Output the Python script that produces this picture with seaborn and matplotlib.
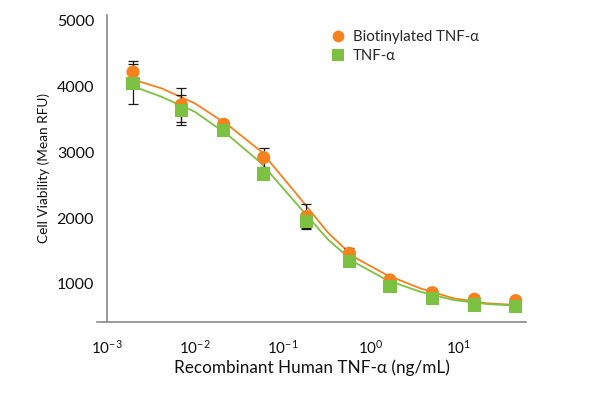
import numpy as np
import pandas as pd
import matplotlib
matplotlib.use("Agg")
import matplotlib.pyplot as plt
from matplotlib.lines import Line2D
import seaborn as sns

# ---- data ----
dose = [0.00199, 0.00703, 0.0213, 0.0605, 0.1845, 0.568, 1.644, 4.97, 14.9, 43.9]
biot_mean = [4220, 3720, 3426, 2920, 2022, 1466, 1061, 868, 768, 746]
biot_err = [160, 260, 40, 145, 190, 85, 30, 20, 20, 20]
tnf_mean = [4040, 3640, 3329, 2671, 1946, 1339, 959, 783, 681, 655]
tnf_err = [300, 230, 40, 60, 100, 50, 40, 30, 20, 20]

curve_dose = [0.00199, 0.00417, 0.00998, 0.0238, 0.0569, 0.136, 0.325,
              0.630, 1.507, 3.60, 8.59, 20.6, 43.9]
biot_curve = [4105, 3973, 3745, 3415, 3010, 2402, 1780, 1415, 1137, 935, 783, 707, 681]
tnf_curve = [4003, 3845, 3617, 3263, 2834, 2250, 1675, 1339, 1061, 883, 757, 696, 670]

series_names = ["Biotinylated TNF-\u03b1", "TNF-\u03b1"]
xticks = [1e-3, 1e-2, 1e-1, 1e0, 1e1]
xtick_labels = ["$10^{-3}$", "$10^{-2}$", "$10^{-1}$", "$10^{0}$", "$10^{1}$"]
yticks = [1000, 2000, 3000, 4000, 5000]

ORANGE = "#F5821F"
GREEN = "#7DC142"
GREY = "#8a8a8a"

sns.set_style("white")
plt.rcParams["font.family"] = ["Lato", "DejaVu Sans"]
plt.rcParams["mathtext.fontset"] = "custom"
plt.rcParams["mathtext.rm"] = "Lato"
plt.rcParams["mathtext.it"] = "Lato:italic"

pts = pd.DataFrame({
    "dose": dose * 2,
    "value": biot_mean + tnf_mean,
    "err": biot_err + tnf_err,
    "series": [series_names[0]] * len(dose) + [series_names[1]] * len(dose),
})
curves = pd.DataFrame({
    "dose": curve_dose * 2,
    "value": biot_curve + tnf_curve,
    "series": [series_names[0]] * len(curve_dose) + [series_names[1]] * len(curve_dose),
})
palette = {series_names[0]: ORANGE, series_names[1]: GREEN}

fig = plt.figure(figsize=(5.91, 3.95), dpi=100)
ax = fig.add_axes([97 / 591, 1 - 321.7 / 395, (526 - 97) / 591, (321.7 - 15) / 395])

sns.lineplot(data=curves, x="dose", y="value", hue="series", palette=palette,
             linewidth=1.3, legend=False, ax=ax, zorder=2)

for name in series_names:
    sub = pts[pts["series"] == name]
    ax.errorbar(sub["dose"], sub["value"], yerr=sub["err"], fmt="none",
                ecolor="#1a1a1a", elinewidth=0.9, capsize=3.4, capthick=0.9, zorder=3)

sns.scatterplot(data=pts[pts["series"] == series_names[0]], x="dose", y="value",
                color=ORANGE, marker="o", s=90, edgecolor="none", legend=False,
                ax=ax, zorder=4)
sns.scatterplot(data=pts[pts["series"] == series_names[1]], x="dose", y="value",
                color=GREEN, marker="s", s=90, edgecolor="none", legend=False,
                ax=ax, zorder=5)

ax.set_xscale("log")
ax.set_xlim(10 ** -3.110, 10 ** 1.759)
ax.set_ylim(427, 5086)
ax.set_xticks(xticks)
ax.set_xticklabels(xtick_labels)
ax.xaxis.set_minor_locator(matplotlib.ticker.NullLocator())
ax.set_yticks(yticks)
ax.set_yticklabels([str(v) for v in yticks], fontfamily=["Liberation Sans"])

for s in ["top", "right"]:
    ax.spines[s].set_visible(False)
ax.spines["left"].set_position(("data", 1e-3))
for s in ["left", "bottom"]:
    ax.spines[s].set_color(GREY)
    ax.spines[s].set_linewidth(1.2)

ax.tick_params(axis="both", which="major", direction="out", length=6, width=1.1,
               color=GREY, labelcolor="#111111", labelsize=11.5)
ax.tick_params(axis="x", labelsize=11)
ax.tick_params(axis="y", pad=3)
ax.tick_params(axis="x", pad=6)

ax.set_xlabel("Recombinant Human TNF-\u03b1 (ng/mL)", fontsize=12.3, color="#111111", labelpad=2)
ax.set_ylabel("Cell Viability (Mean RFU)", fontsize=9.8, color="#111111", labelpad=5)

handles = [
    Line2D([], [], marker="o", color=ORANGE, linestyle="none", markersize=8.5, markeredgewidth=0),
    Line2D([], [], marker="s", color=GREEN, linestyle="none", markersize=8, markeredgewidth=0),
]
ax.legend(handles, series_names, loc="upper left", bbox_to_anchor=(0.535, 0.97),
          frameon=False, fontsize=10.7, handlelength=0.8, handletextpad=0.55,
          labelspacing=0.35, borderaxespad=0)

fig.savefig("out.png", dpi=100)
